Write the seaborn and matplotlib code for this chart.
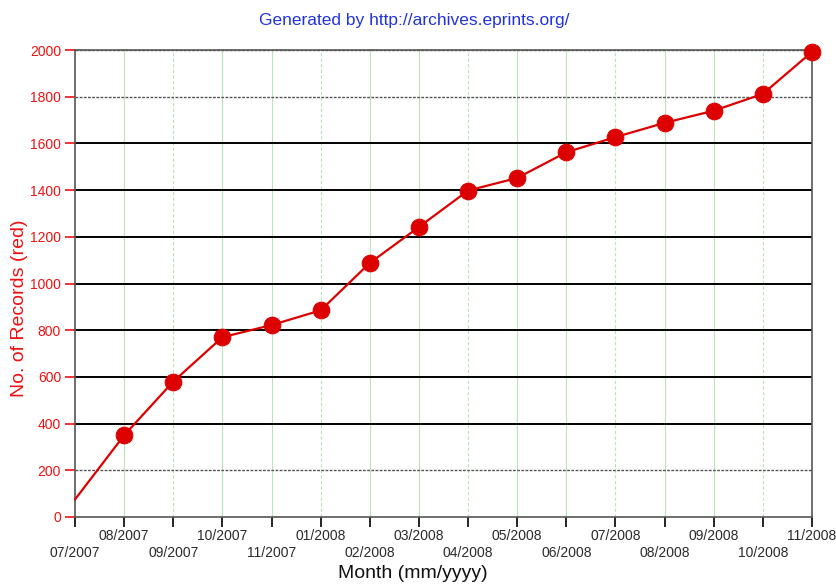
import matplotlib
matplotlib.use("Agg")
import matplotlib.pyplot as plt
import seaborn as sns
import pandas as pd

months = ["07/2007", "08/2007", "09/2007", "10/2007", "11/2007", "01/2008", "02/2008",
          "03/2008", "04/2008", "05/2008", "06/2008", "07/2008", "08/2008", "09/2008",
          "10/2008", "11/2008"]
records = [75, 350, 580, 770, 822, 885, 1088, 1242, 1398, 1452, 1562, 1627, 1688, 1740,
           1812, 1992]
y_ticks = [0, 200, 400, 600, 800, 1000, 1200, 1400, 1600, 1800, 2000]

sns.set_theme(style="white")
plt.rcParams["font.family"] = ["Liberation Sans", "DejaVu Sans"]

fig = plt.figure(figsize=(8.36, 5.84), dpi=100)
ax = fig.add_axes([75 / 836, 1 - 517 / 584, 737 / 836, 467 / 584])

df = pd.DataFrame({"pos": list(range(len(months))), "records": records})

# grid lines
for i in range(1, len(months) - 1):
    ax.axvline(i, color="#b8e6b8", lw=0.8, ls="-" if i % 3 != 2 else (0, (3, 2)), zorder=0)
for v in y_ticks[1:]:
    if v in (200, 1800, 2000):
        ax.axhline(v, color="#555555", lw=1.0, ls=(0, (2, 1)), zorder=1)
    else:
        ax.axhline(v, color="black", lw=1.4, zorder=1)

sns.lineplot(data=df, x="pos", y="records", ax=ax, color="#dd0000", lw=1.6,
             marker="o", markersize=12, markeredgecolor="#dd0000",
             markevery=list(range(1, len(months))), zorder=3, clip_on=False)

ax.set_xlim(0, len(months) - 1)
ax.set_ylim(0, 2000)
ax.set_yticks(y_ticks)
ax.set_yticklabels([str(v) for v in y_ticks], color="#ee1111", fontsize=10)
ax.set_xticks(range(len(months)))
ax.set_xticklabels([m if i % 2 == 1 else "\n" + m for i, m in enumerate(months)],
                   fontsize=10, color="#2a2a2a", linespacing=1.25)
ax.tick_params(axis="x", direction="out", length=7, width=1.2, color="black", pad=2, bottom=True)
ax.tick_params(axis="y", direction="out", length=7, width=1.2, color="#ee1111", pad=3, left=True)

for s in ax.spines.values():
    s.set_color("#555555")
    s.set_linestyle((0, (2, 1)))
    s.set_linewidth(1.2)

ax.set_xlabel("Month (mm/yyyy)", fontsize=14, color="#111111")
ax.xaxis.set_label_coords((413 - 75) / 737, (517 - 573) / 467)
ax.xaxis.label.set_va("center")
ax.set_ylabel("No. of Records (red)", fontsize=14, color="#ee1111")
ax.yaxis.set_label_coords((20 - 75) / 737, (517 - 308) / 467)
ax.yaxis.label.set_va("center")
fig.text(414 / 836, 1 - 20 / 584, "Generated by http://archives.eprints.org/",
         ha="center", va="center", color="#2233dd", fontsize=12.5)

fig.savefig("out.png", dpi=100)
